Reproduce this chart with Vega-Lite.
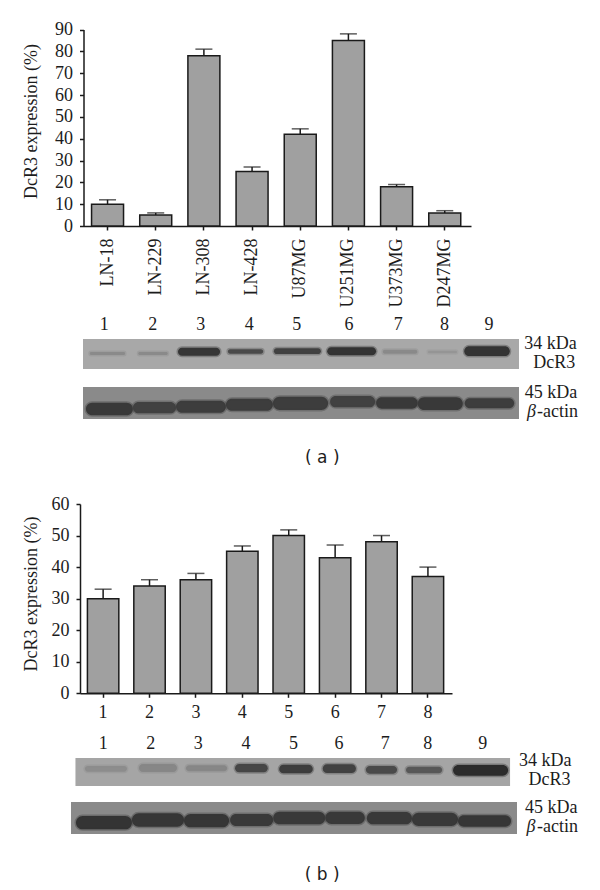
{
"$schema":"https://vega.github.io/schema/vega-lite/v6.json",
"width":600,"height":890,"padding":0,"autosize":{"type":"none"},"background":"white",
"config":{"view":{"stroke":null},"text":{"font":"Liberation Serif","fontSize":18,"color":"#1c1c1c"}},
"datasets":{
"barsA":[{"line":"LN-18","value":10,"upper":12},{"line":"LN-229","value":5,"upper":6},{"line":"LN-308","value":78,"upper":81},{"line":"LN-428","value":25,"upper":27},{"line":"U87MG","value":42,"upper":44.5},{"line":"U251MG","value":85,"upper":88},{"line":"U373MG","value":18,"upper":19},{"line":"D247MG","value":6,"upper":7}],
"barsB":[{"line":"1","value":30,"upper":33},{"line":"2","value":34,"upper":36},{"line":"3","value":36,"upper":38},{"line":"4","value":45,"upper":46.7},{"line":"5","value":50,"upper":51.8},{"line":"6","value":43,"upper":47},{"line":"7","value":48,"upper":50},{"line":"8","value":37,"upper":40}],
"gelA":[
{"kind":"bg","start":0,"end":9,"top":0,"bottom":30,"signal":0.1},
{"kind":"bg","start":0,"end":9,"top":48,"bottom":80,"signal":0.3},
{"kind":"band","start":0.14,"end":0.87,"top":13,"bottom":16,"signal":0.3},
{"kind":"band","start":1.14,"end":1.75,"top":13,"bottom":16,"signal":0.3},
{"kind":"band","start":1.96,"end":2.83,"top":8.7,"bottom":16.7,"signal":0.9},
{"kind":"band","start":2.99,"end":3.72,"top":10.3,"bottom":14.7,"signal":0.75},
{"kind":"band","start":3.94,"end":4.91,"top":9.3,"bottom":15,"signal":0.82},
{"kind":"band","start":5.04,"end":6.05,"top":8.3,"bottom":16.3,"signal":0.92},
{"kind":"band","start":6.19,"end":6.9,"top":10.7,"bottom":14.7,"signal":0.3},
{"kind":"band","start":7.12,"end":7.72,"top":11.7,"bottom":14.3,"signal":0.22},
{"kind":"band","start":7.87,"end":8.81,"top":7.3,"bottom":17,"signal":0.92},
{"kind":"band","start":0.06,"end":1.03,"top":63.7,"bottom":76.3,"signal":0.88},
{"kind":"band","start":1.03,"end":1.92,"top":63,"bottom":74.3,"signal":0.82},
{"kind":"band","start":1.92,"end":2.95,"top":61.7,"bottom":73.7,"signal":0.85},
{"kind":"band","start":2.95,"end":3.92,"top":59.7,"bottom":71.7,"signal":0.85},
{"kind":"band","start":3.92,"end":5.06,"top":57.7,"bottom":71,"signal":0.85},
{"kind":"band","start":5.1,"end":6.03,"top":57,"bottom":68.3,"signal":0.82},
{"kind":"band","start":6.05,"end":6.91,"top":58.3,"bottom":69.7,"signal":0.88},
{"kind":"band","start":6.91,"end":7.84,"top":58.3,"bottom":71,"signal":0.88},
{"kind":"band","start":7.88,"end":8.9,"top":59.3,"bottom":69.3,"signal":0.85}],
"gelB":[
{"kind":"bg","start":0.09,"end":8.86,"top":0,"bottom":28,"signal":0.12},
{"kind":"bg","start":0,"end":9,"top":44,"bottom":76,"signal":0.3},
{"kind":"band","start":0.28,"end":1.13,"top":8,"bottom":13.7,"signal":0.28},
{"kind":"band","start":1.37,"end":2.14,"top":6,"bottom":14,"signal":0.32},
{"kind":"band","start":2.32,"end":3.15,"top":7.3,"bottom":13.3,"signal":0.32},
{"kind":"band","start":3.31,"end":3.97,"top":6,"bottom":14.3,"signal":0.78},
{"kind":"band","start":4.2,"end":4.88,"top":6.7,"bottom":15.3,"signal":0.85},
{"kind":"band","start":5.08,"end":5.75,"top":6.3,"bottom":15,"signal":0.82},
{"kind":"band","start":5.95,"end":6.58,"top":8,"bottom":15.7,"signal":0.75},
{"kind":"band","start":6.76,"end":7.49,"top":8.7,"bottom":15.3,"signal":0.65},
{"kind":"band","start":7.71,"end":8.82,"top":7,"bottom":17.7,"signal":0.98},
{"kind":"band","start":0.1,"end":1.23,"top":58,"bottom":71.3,"signal":0.92},
{"kind":"band","start":1.23,"end":2.28,"top":55.3,"bottom":68.7,"signal":0.9},
{"kind":"band","start":2.28,"end":3.19,"top":56,"bottom":69.3,"signal":0.9},
{"kind":"band","start":3.21,"end":4.08,"top":56,"bottom":68,"signal":0.88},
{"kind":"band","start":4.08,"end":5.13,"top":53.7,"bottom":66.3,"signal":0.88},
{"kind":"band","start":5.13,"end":5.93,"top":53.7,"bottom":66,"signal":0.88},
{"kind":"band","start":5.97,"end":6.88,"top":54,"bottom":66.3,"signal":0.88},
{"kind":"band","start":6.88,"end":7.81,"top":54.7,"bottom":68,"signal":0.88},
{"kind":"band","start":7.81,"end":8.88,"top":57.3,"bottom":68.7,"signal":0.9}],
"textA":[
{"role":"lane","x":0.44,"y":-14,"label":"1"},{"role":"lane","x":1.44,"y":-14,"label":"2"},{"role":"lane","x":2.43,"y":-14,"label":"3"},{"role":"lane","x":3.43,"y":-14,"label":"4"},{"role":"lane","x":4.41,"y":-14,"label":"5"},{"role":"lane","x":5.49,"y":-14,"label":"6"},{"role":"lane","x":6.51,"y":-14,"label":"7"},{"role":"lane","x":7.46,"y":-14,"label":"8"},{"role":"lane","x":8.38,"y":-14,"label":"9"},
{"role":"side","x":10.19,"y":5.3,"label":"34 kDa"},{"role":"side","x":10.16,"y":23.7,"label":"DcR3"},{"role":"side","x":10.2,"y":53.6,"label":"45 kDa"},{"role":"side","x":10.22,"y":73,"label":"-actin"},
{"role":"greek","x":9.26,"y":73,"label":"β"},
{"role":"caption","x":4.94,"y":119,"label":"( a )"}],
"textB":[
{"role":"lane","x":0.65,"y":-13.7,"label":"1"},{"role":"lane","x":1.61,"y":-13.7,"label":"2"},{"role":"lane","x":2.57,"y":-13.7,"label":"3"},{"role":"lane","x":3.53,"y":-13.7,"label":"4"},{"role":"lane","x":4.49,"y":-13.7,"label":"5"},{"role":"lane","x":5.41,"y":-13.7,"label":"6"},{"role":"lane","x":6.34,"y":-13.7,"label":"7"},{"role":"lane","x":7.2,"y":-13.7,"label":"8"},{"role":"lane","x":8.31,"y":-13.7,"label":"9"},
{"role":"side","x":10.1,"y":3,"label":"34 kDa"},{"role":"side","x":10.08,"y":22,"label":"DcR3"},{"role":"side","x":10.22,"y":49.6,"label":"45 kDa"},{"role":"side","x":10.23,"y":69,"label":"-actin"},
{"role":"greek","x":9.28,"y":69,"label":"β"},
{"role":"caption","x":5.07,"y":117,"label":"( b )"}]
},
"resolve":{"scale":{"x":"independent","y":"independent","color":"independent"},"axis":{"x":"independent","y":"independent"}},
"layer":[
{"data":{"name":"barsA"},
 "encoding":{
  "x":{"field":"line","type":"nominal","sort":null,"scale":{"type":"band","range":[83.5,471],"paddingInner":0.336,"paddingOuter":0.19,"align":0.44},
   "axis":{"title":null,"orient":"bottom","offset":-664,"labelAngle":270,"labelAlign":"right","labelBaseline":"middle","labelFont":"Liberation Serif","labelFontSize":18,"labelColor":"#1c1c1c","labelPadding":8,"labelOverlap":false,"tickSize":4,"tickWidth":1.5,"tickColor":"#1a1a1a","domainWidth":1.5,"domainColor":"#1a1a1a","grid":false}}},
 "layer":[
  {"mark":{"type":"rule","strokeWidth":1.5,"color":"#1a1a1a"},"encoding":{"y":{"field":"value","type":"quantitative","scale":{"domain":[0,90],"range":[226,29.5]}},"y2":{"field":"upper"}}},
  {"mark":{"type":"tick","orient":"horizontal","size":17,"thickness":1.5,"color":"#1a1a1a"},"encoding":{"y":{"field":"upper","type":"quantitative","scale":{"domain":[0,90],"range":[226,29.5]}}}},
  {"mark":{"type":"bar","fill":"#a0a0a0","stroke":"#1a1a1a","strokeWidth":1.5},"encoding":{"y":{"field":"value","type":"quantitative","stack":null,"scale":{"domain":[0,90],"range":[226,29.5]},
   "axis":{"title":"DcR3 expression (%)","orient":"left","offset":-83.5,"values":[0,10,20,30,40,50,60,70,80,90],"labelFont":"Liberation Serif","labelFontSize":18,"labelColor":"#1c1c1c","labelPadding":7,"tickSize":4,"tickWidth":1.5,"tickColor":"#1a1a1a","domainWidth":1.5,"domainColor":"#1a1a1a","grid":false,"titleFont":"Liberation Serif","titleFontSize":18,"titleFontWeight":"normal","titleColor":"#1c1c1c","titleX":-52.5,"titleY":121,"titleBaseline":"middle"}}}}
 ]},
{"data":{"name":"gelA"},
 "encoding":{
  "x":{"field":"start","type":"quantitative","axis":null,"scale":{"domain":[0,9],"range":[83,519]}},
  "x2":{"field":"end"},
  "y":{"field":"top","type":"quantitative","axis":null,"scale":{"domain":[0,80],"range":[339,419]}},
  "y2":{"field":"bottom"}},
 "layer":[
  {"transform":[{"filter":"datum.kind==='bg'"}],"mark":{"type":"rect"},"encoding":{"color":{"field":"signal","type":"quantitative","legend":null,"scale":{"domain":[0,1],"range":["#b8b8b8","#2a2a2a"]}}}},
  {"transform":[{"filter":"datum.kind==='band'"}],"mark":{"type":"rect","cornerRadius":7,"strokeWidth":3,"strokeOpacity":0.35},"encoding":{"color":{"field":"signal","type":"quantitative","legend":null,"scale":{"domain":[0,1],"range":["#b8b8b8","#2a2a2a"]}},"stroke":{"field":"signal","type":"quantitative","legend":null,"scale":{"domain":[0,1],"range":["#b8b8b8","#2a2a2a"]}}}}
 ]},
{"data":{"name":"textA"},
 "encoding":{
  "x":{"field":"x","type":"quantitative","axis":null,"scale":{"domain":[0,9],"range":[83,519]}},
  "y":{"field":"y","type":"quantitative","axis":null,"scale":{"domain":[0,80],"range":[339,419]}},
  "text":{"field":"label"}},
 "layer":[
  {"transform":[{"filter":"datum.role==='lane'"}],"mark":{"type":"text","align":"center","baseline":"middle"}},
  {"transform":[{"filter":"datum.role==='side'"}],"mark":{"type":"text","align":"right","baseline":"middle"}},
  {"transform":[{"filter":"datum.role==='greek'"}],"mark":{"type":"text","align":"center","baseline":"middle","fontStyle":"italic","fontSize":18}},
  {"transform":[{"filter":"datum.role==='caption'"}],"mark":{"type":"text","align":"center","baseline":"middle","font":"DejaVu Sans","fontSize":17}}
 ]},
{"data":{"name":"barsB"},
 "encoding":{
  "x":{"field":"line","type":"nominal","sort":null,"scale":{"type":"band","range":[80,452],"paddingInner":0.323,"paddingOuter":0.17,"align":0.47},
   "axis":{"title":null,"orient":"bottom","offset":-196.7,"labelAngle":0,"labelAlign":"center","labelBaseline":"top","labelFont":"Liberation Serif","labelFontSize":18,"labelColor":"#1c1c1c","labelPadding":6,"tickSize":4,"tickWidth":1.5,"tickColor":"#1a1a1a","domainWidth":1.5,"domainColor":"#1a1a1a","grid":false}}},
 "layer":[
  {"mark":{"type":"rule","strokeWidth":1.5,"color":"#1a1a1a"},"encoding":{"y":{"field":"value","type":"quantitative","scale":{"domain":[0,60],"range":[693.3,504]}},"y2":{"field":"upper"}}},
  {"mark":{"type":"tick","orient":"horizontal","size":17,"thickness":1.5,"color":"#1a1a1a"},"encoding":{"y":{"field":"upper","type":"quantitative","scale":{"domain":[0,60],"range":[693.3,504]}}}},
  {"mark":{"type":"bar","fill":"#a0a0a0","stroke":"#1a1a1a","strokeWidth":1.5},"encoding":{"y":{"field":"value","type":"quantitative","stack":null,"scale":{"domain":[0,60],"range":[693.3,504]},
   "axis":{"title":"DcR3 expression (%)","orient":"left","offset":-80,"values":[0,10,20,30,40,50,60],"labelFont":"Liberation Serif","labelFontSize":18,"labelColor":"#1c1c1c","labelPadding":7,"tickSize":4,"tickWidth":1.5,"tickColor":"#1a1a1a","domainWidth":1.5,"domainColor":"#1a1a1a","grid":false,"titleFont":"Liberation Serif","titleFontSize":18,"titleFontWeight":"normal","titleColor":"#1c1c1c","titleX":-49,"titleY":593.5,"titleBaseline":"middle"}}}}
 ]},
{"data":{"name":"gelB"},
 "encoding":{
  "x":{"field":"start","type":"quantitative","axis":null,"scale":{"domain":[0,9],"range":[71,517]}},
  "x2":{"field":"end"},
  "y":{"field":"top","type":"quantitative","axis":null,"scale":{"domain":[0,80],"range":[758,838]}},
  "y2":{"field":"bottom"}},
 "layer":[
  {"transform":[{"filter":"datum.kind==='bg'"}],"mark":{"type":"rect"},"encoding":{"color":{"field":"signal","type":"quantitative","legend":null,"scale":{"domain":[0,1],"range":["#b8b8b8","#2a2a2a"]}}}},
  {"transform":[{"filter":"datum.kind==='band'"}],"mark":{"type":"rect","cornerRadius":7,"strokeWidth":3,"strokeOpacity":0.35},"encoding":{"color":{"field":"signal","type":"quantitative","legend":null,"scale":{"domain":[0,1],"range":["#b8b8b8","#2a2a2a"]}},"stroke":{"field":"signal","type":"quantitative","legend":null,"scale":{"domain":[0,1],"range":["#b8b8b8","#2a2a2a"]}}}}
 ]},
{"data":{"name":"textB"},
 "encoding":{
  "x":{"field":"x","type":"quantitative","axis":null,"scale":{"domain":[0,9],"range":[71,517]}},
  "y":{"field":"y","type":"quantitative","axis":null,"scale":{"domain":[0,80],"range":[758,838]}},
  "text":{"field":"label"}},
 "layer":[
  {"transform":[{"filter":"datum.role==='lane'"}],"mark":{"type":"text","align":"center","baseline":"middle"}},
  {"transform":[{"filter":"datum.role==='side'"}],"mark":{"type":"text","align":"right","baseline":"middle"}},
  {"transform":[{"filter":"datum.role==='greek'"}],"mark":{"type":"text","align":"center","baseline":"middle","fontStyle":"italic","fontSize":18}},
  {"transform":[{"filter":"datum.role==='caption'"}],"mark":{"type":"text","align":"center","baseline":"middle","font":"DejaVu Sans","fontSize":17}}
 ]}
]}
